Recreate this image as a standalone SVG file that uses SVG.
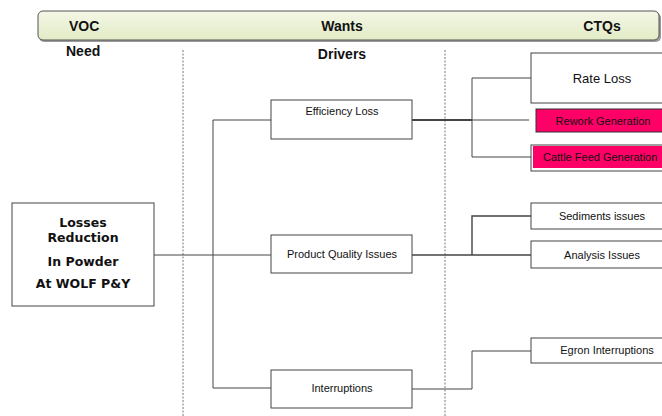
<svg xmlns="http://www.w3.org/2000/svg" width="662" height="416" viewBox="0 0 662 416">
  <style>
    .hdr { font-family: "Liberation Sans", Arial, sans-serif; font-weight: bold; font-size: 14px; fill: #111; }
    .box { fill: #fff; stroke: #444; stroke-width: 1; }
    .hot { fill: #ff0066; stroke: #333; stroke-width: 1; }
    .lbl { font-family: "Liberation Sans", Arial, sans-serif; font-size: 11px; fill: #111; text-anchor: middle; }
    .big { font-family: "DejaVu Sans", Verdana, sans-serif; font-weight: bold; font-size: 12.5px; fill: #111; text-anchor: middle; }
    .wire { fill: none; stroke: #444; stroke-width: 1; }
    .sep { stroke: #777; stroke-width: 1; stroke-dasharray: 2 1.5; }
  </style>
  <defs>
    <linearGradient id="barFill" x1="0" y1="0" x2="0" y2="1">
      <stop offset="0" stop-color="#f4f7e6"/>
      <stop offset="1" stop-color="#e2ebc6"/>
    </linearGradient>
    <clipPath id="page"><rect x="0" y="0" width="662" height="416"/></clipPath>
  </defs>
  <rect width="662" height="416" fill="#fff"/>

  <!-- header band -->
  <g id="header">
    <rect x="39" y="13" width="622" height="29" rx="5" fill="#9a9a9a"/>
    <rect x="38" y="11" width="621" height="29" rx="5" fill="url(#barFill)" stroke="#555" stroke-width="1"/>
    <text class="hdr" x="69" y="31">VOC</text>
    <text class="hdr" x="342" y="31" text-anchor="middle">Wants</text>
    <text class="hdr" x="602" y="31" text-anchor="middle">CTQs</text>
    <text class="hdr" x="66" y="56">Need</text>
    <text class="hdr" x="342" y="59" text-anchor="middle">Drivers</text>
  </g>

  <!-- column separators -->
  <g id="separators">
    <line class="sep" x1="183" y1="50" x2="183" y2="416"/>
    <line class="sep" x1="445" y1="50" x2="445" y2="416"/>
  </g>

  <!-- connectors -->
  <g id="connectors">
    <path class="wire" d="M154 255 H213 M213 120 V388 M213 120 H271 M213 255 H271 M213 388 H271"/>
    <path class="wire" style="stroke-width:2" d="M412 120 H472"/>
    <path class="wire" d="M472 78 V157 M472 78 H531 M472 120 H529 M472 157 H531"/>
    <path class="wire" style="stroke-width:1.4" d="M412 255 H531 M472 255 V216 H531"/>
    <path class="wire" d="M412 389 H472 V351 H531"/>
  </g>

  <g id="need">
    <rect class="box" x="12" y="203" width="142" height="103"/>
    <text class="big" x="83" y="227">Losses</text>
    <text class="big" x="83" y="242">Reduction</text>
    <text class="big" x="83" y="266">In Powder</text>
    <text class="big" x="83" y="288">At WOLF P&amp;Y</text>
  </g>

  <g id="efficiency-loss">
    <rect class="box" x="271" y="100" width="141" height="39"/>
    <text class="lbl" x="342" y="115">Efficiency Loss</text>
  </g>
  <g id="product-quality">
    <rect class="box" x="271" y="235" width="141" height="38"/>
    <text class="lbl" x="342" y="258">Product Quality Issues</text>
  </g>
  <g id="interruptions">
    <rect class="box" x="271" y="370" width="141" height="38"/>
    <text class="lbl" x="342" y="392">Interruptions</text>
  </g>

  <g clip-path="url(#page)">
    <g id="rate-loss">
      <rect class="box" x="531" y="53" width="140" height="50"/>
      <text class="lbl" x="602" y="83" style="font-size:13px">Rate Loss</text>
    </g>
    <g id="rework-generation">
      <rect class="hot" x="536" y="109" width="135" height="23"/>
      <text class="lbl" x="603" y="125">Rework Generation</text>
    </g>
    <g id="cattle-feed-generation">
      <rect class="box" x="531" y="145" width="140" height="26"/>
      <rect x="533" y="146" width="138" height="22" fill="#ff0066"/>
      <text class="lbl" x="543" y="161" style="text-anchor:start">Cattle Feed Generation</text>
    </g>
    <g id="sediments-issues">
      <rect class="box" x="531" y="203" width="140" height="26"/>
      <text class="lbl" x="602" y="220">Sediments issues</text>
    </g>
    <g id="analysis-issues">
      <rect class="box" x="531" y="241" width="140" height="27"/>
      <text class="lbl" x="602" y="259">Analysis Issues</text>
    </g>
    <g id="egron-interruptions">
      <rect class="box" x="531" y="338" width="140" height="25"/>
      <text class="lbl" x="607" y="354">Egron Interruptions</text>
    </g>
  </g>
</svg>
